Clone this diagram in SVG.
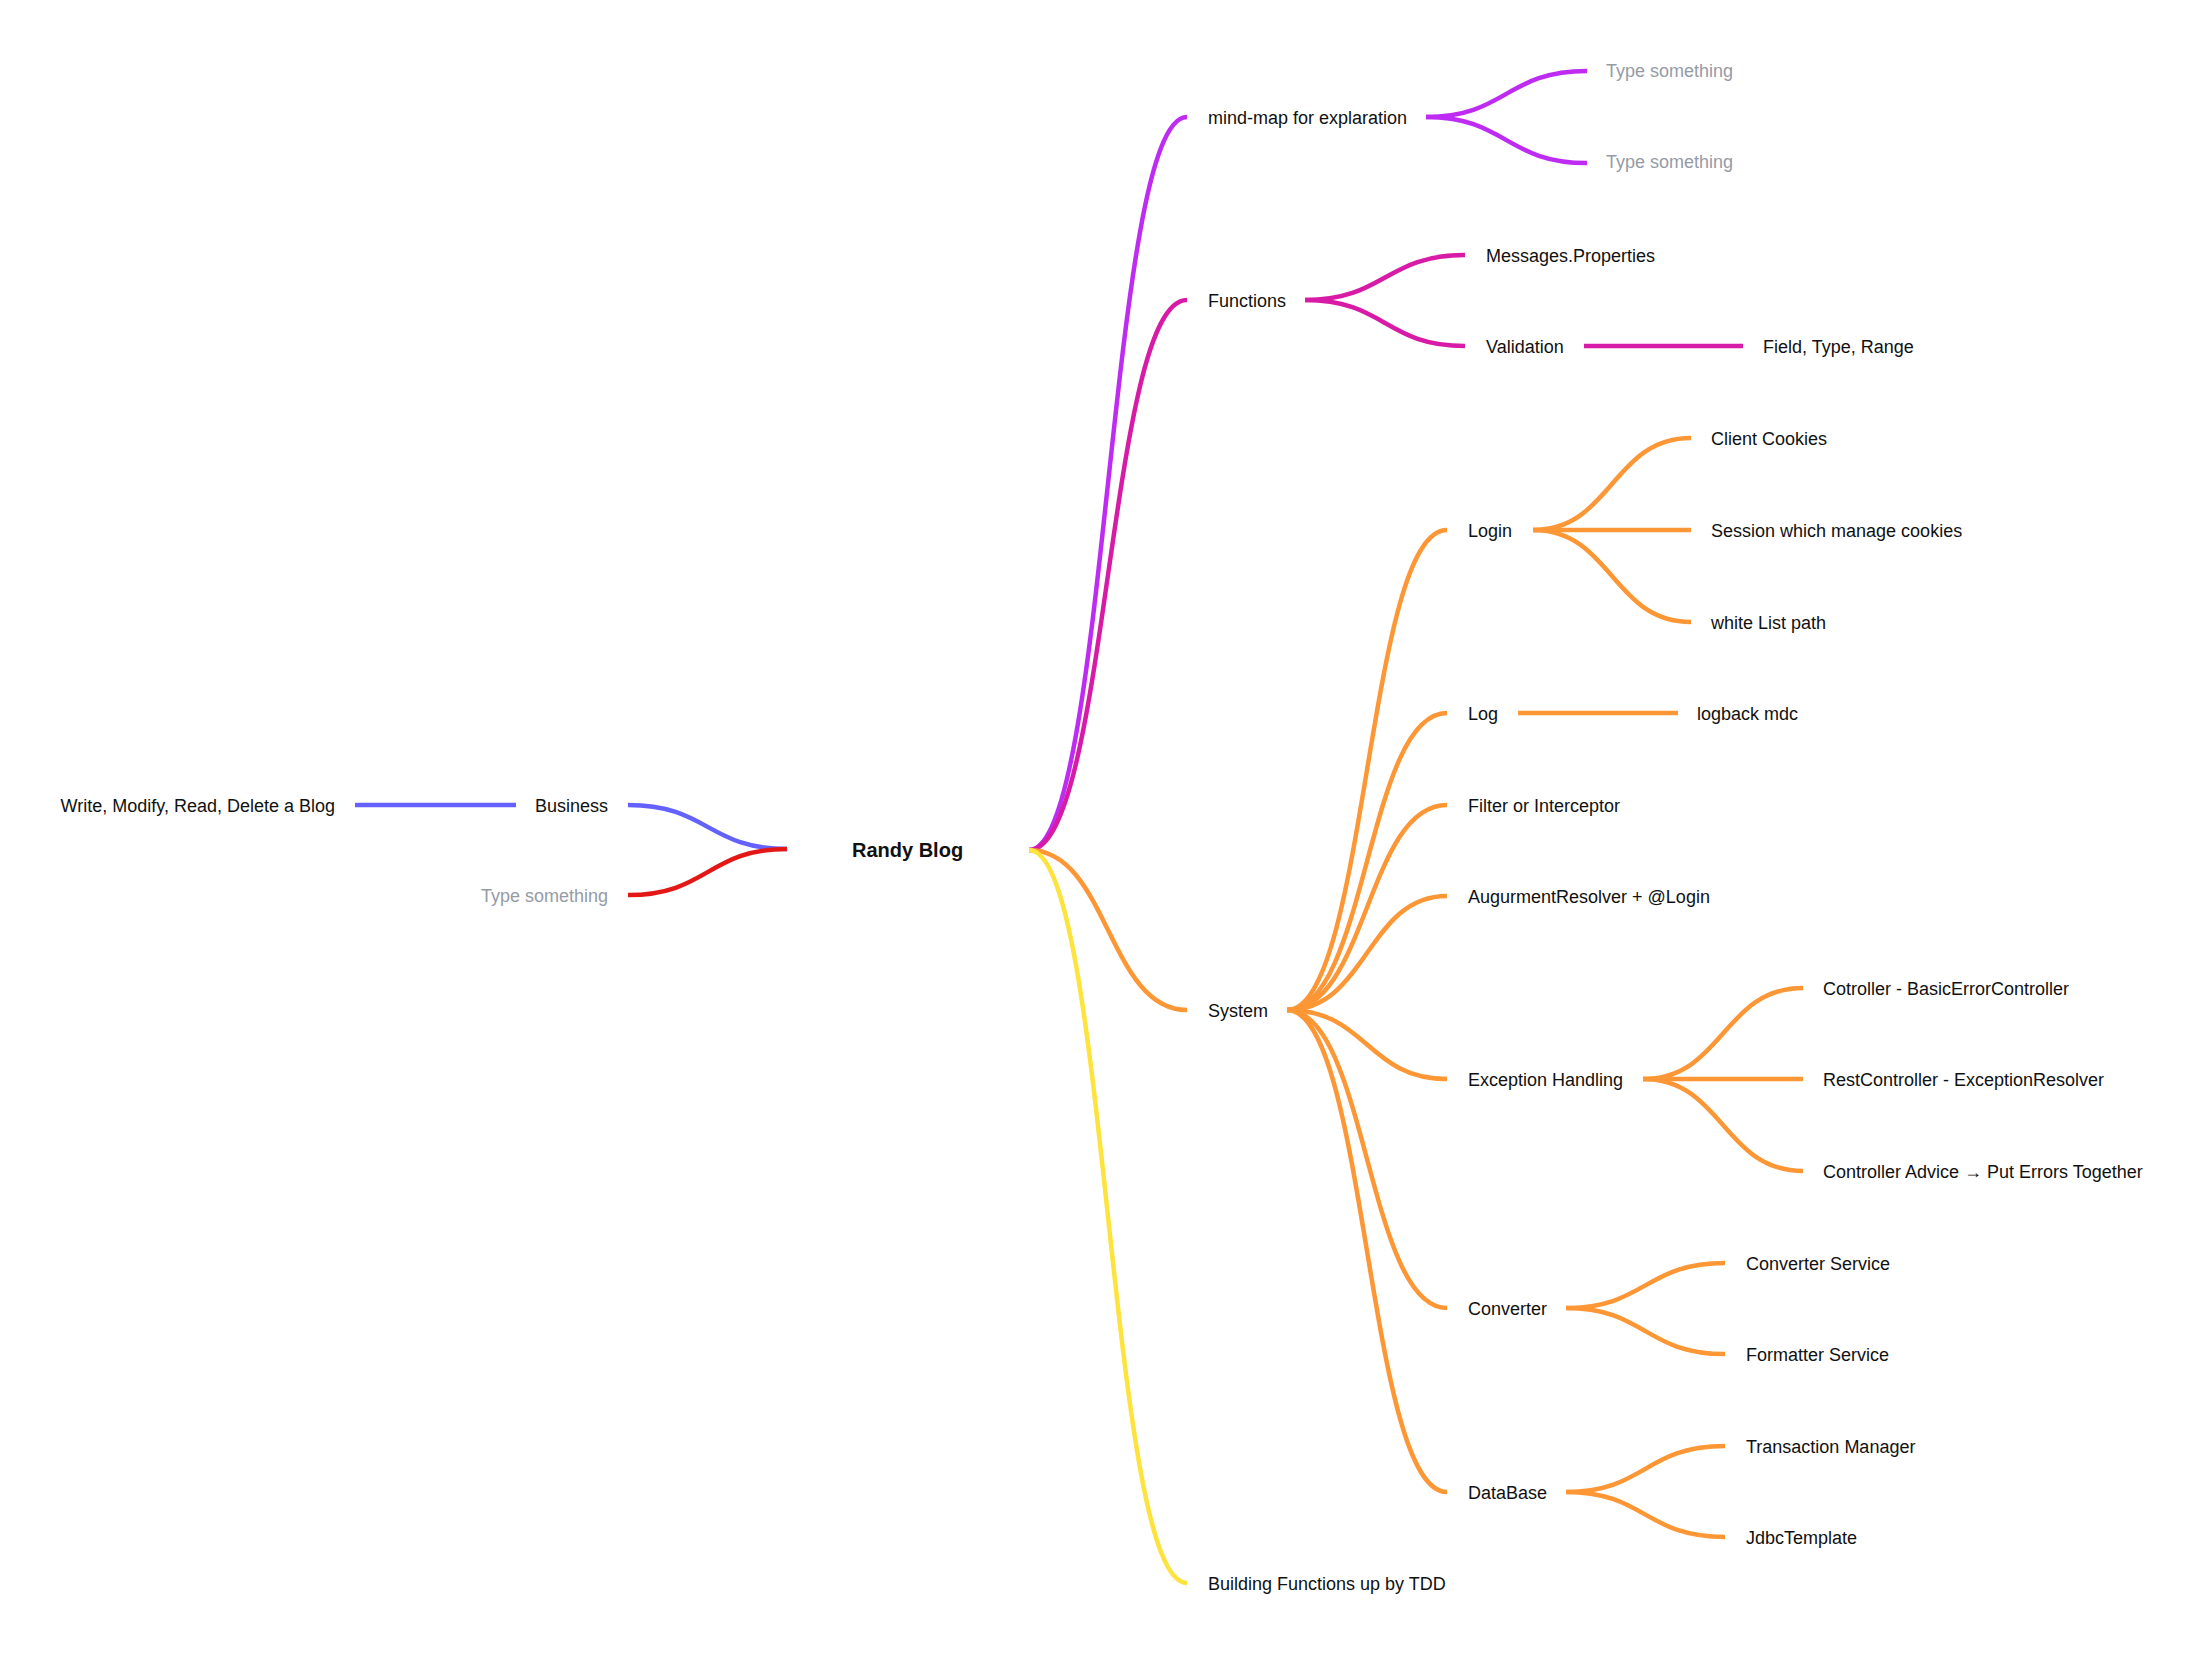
<svg xmlns="http://www.w3.org/2000/svg" width="2202" height="1653" viewBox="0 0 2202 1653">
<style>
  text { font-family: "Liberation Sans", Arial, sans-serif; font-size: 18px; fill: #111111; }
  .root { font-size: 20px; font-weight: bold; }
  .ph { fill: #959ba6; }
  .end { text-anchor: end; }
  path { fill: none; stroke-width: 4.5; stroke-linecap: butt; }
  .c-purple { stroke: #be2cf4; }
  .c-magenta { stroke: #d81ba6; }
  .c-orange { stroke: #fd9634; }
  .c-yellow { stroke: #fde33c; }
  .c-blue { stroke: #6461fc; }
  .c-red { stroke: #e41717; }
</style>
<rect x="0" y="0" width="2202" height="1653" fill="#ffffff"/>
<g id="connectors">
  <!-- left side -->
  <path class="c-blue" d="M787 849 C708 849 708 805 628 805"/>
  <path class="c-red" d="M787 849 C708 849 708 895 628 895"/>
  <path class="c-blue" d="M516 805 L355 805"/>
  <!-- root to level 1 -->
  <path class="c-purple" d="M1029 850 C1108 850 1108 117 1187 117"/>
  <path class="c-magenta" d="M1029 850 C1108 850 1108 300 1187 300"/>
  <path class="c-orange" d="M1029 850 C1108 850 1108 1010 1187 1010"/>
  <path class="c-yellow" d="M1029 850 C1108 850 1108 1583 1187 1583"/>
  <!-- mind-map children -->
  <path class="c-purple" d="M1426 117 C1506 117 1506 71 1587 71"/>
  <path class="c-purple" d="M1426 117 C1506 117 1506 163 1587 163"/>
  <!-- Functions children -->
  <path class="c-magenta" d="M1305 300 C1385 300 1385 255 1465 255"/>
  <path class="c-magenta" d="M1305 300 C1385 300 1385 346 1465 346"/>
  <path class="c-magenta" d="M1584 346 L1743 346"/>
  <!-- System children -->
  <path class="c-orange" d="M1287 1010 C1367 1010 1367 530 1447 530"/>
  <path class="c-orange" d="M1287 1010 C1367 1010 1367 713 1447 713"/>
  <path class="c-orange" d="M1287 1010 C1367 1010 1367 805 1447 805"/>
  <path class="c-orange" d="M1287 1010 C1367 1010 1367 896 1447 896"/>
  <path class="c-orange" d="M1287 1010 C1367 1010 1367 1079 1447 1079"/>
  <path class="c-orange" d="M1287 1010 C1367 1010 1367 1308 1447 1308"/>
  <path class="c-orange" d="M1287 1010 C1367 1010 1367 1492 1447 1492"/>
  <!-- Login children -->
  <path class="c-orange" d="M1533 530 C1612 530 1612 438 1691 438"/>
  <path class="c-orange" d="M1533 530 L1691 530"/>
  <path class="c-orange" d="M1533 530 C1612 530 1612 622 1691 622"/>
  <!-- Log child -->
  <path class="c-orange" d="M1518 713 L1678 713"/>
  <!-- Exception children -->
  <path class="c-orange" d="M1643 1079 C1723 1079 1723 988 1803 988"/>
  <path class="c-orange" d="M1643 1079 L1803 1079"/>
  <path class="c-orange" d="M1643 1079 C1723 1079 1723 1171 1803 1171"/>
  <!-- Converter children -->
  <path class="c-orange" d="M1566 1308 C1645 1308 1645 1263 1725 1263"/>
  <path class="c-orange" d="M1566 1308 C1645 1308 1645 1354 1725 1354"/>
  <!-- DataBase children -->
  <path class="c-orange" d="M1566 1492 C1645 1492 1645 1446 1725 1446"/>
  <path class="c-orange" d="M1566 1492 C1645 1492 1645 1537 1725 1537"/>
</g>
<g id="node-root"><text class="root" x="852" y="857">Randy Blog</text></g>
<g id="node-business"><text class="end" x="608" y="812">Business</text></g>
<g id="node-business-crud"><text class="end" x="335" y="812">Write, Modify, Read, Delete a Blog</text></g>
<g id="node-left-type"><text class="end ph" x="608" y="902">Type something</text></g>
<g id="node-mindmap"><text x="1208" y="124">mind-map for explaration</text></g>
<g id="node-mm-type1"><text class="ph" x="1606" y="77">Type something</text></g>
<g id="node-mm-type2"><text class="ph" x="1606" y="168">Type something</text></g>
<g id="node-functions"><text x="1208" y="307">Functions</text></g>
<g id="node-messages"><text x="1486" y="262">Messages.Properties</text></g>
<g id="node-validation"><text x="1486" y="353">Validation</text></g>
<g id="node-field"><text x="1763" y="353">Field, Type, Range</text></g>
<g id="node-system"><text x="1208" y="1017">System</text></g>
<g id="node-login"><text x="1468" y="537">Login</text></g>
<g id="node-cookies"><text x="1711" y="445">Client Cookies</text></g>
<g id="node-session"><text x="1711" y="537">Session which manage cookies</text></g>
<g id="node-whitelist"><text x="1711" y="629">white List path</text></g>
<g id="node-log"><text x="1468" y="720">Log</text></g>
<g id="node-logback"><text x="1697" y="720">logback mdc</text></g>
<g id="node-filter"><text x="1468" y="812">Filter or Interceptor</text></g>
<g id="node-argresolver"><text x="1468" y="903">AugurmentResolver + @Login</text></g>
<g id="node-exception"><text x="1468" y="1086">Exception Handling</text></g>
<g id="node-cotroller"><text x="1823" y="995">Cotroller - BasicErrorController</text></g>
<g id="node-restcontroller"><text x="1823" y="1086">RestController - ExceptionResolver</text></g>
<g id="node-advice"><text x="1823" y="1178">Controller Advice → Put Errors Together</text></g>
<g id="node-converter"><text x="1468" y="1315">Converter</text></g>
<g id="node-convservice"><text x="1746" y="1270">Converter Service</text></g>
<g id="node-formatter"><text x="1746" y="1361">Formatter Service</text></g>
<g id="node-database"><text x="1468" y="1499">DataBase</text></g>
<g id="node-transaction"><text x="1746" y="1453">Transaction Manager</text></g>
<g id="node-jdbc"><text x="1746" y="1544">JdbcTemplate</text></g>
<g id="node-tdd"><text x="1208" y="1590">Building Functions up by TDD</text></g>
</svg>
